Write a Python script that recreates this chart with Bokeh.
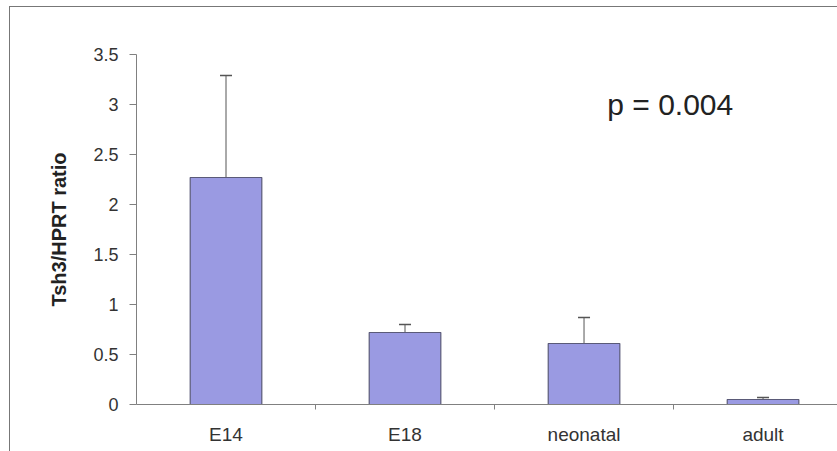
from bokeh.plotting import figure
from bokeh.models import ColumnDataSource, Whisker, TeeHead, FixedTicker, Label, Range1d
from bokeh.embed import file_html
from bokeh.resources import INLINE

categories = ["E14", "E18", "neonatal", "adult"]
ratio = [2.27, 0.72, 0.61, 0.05]
error = [1.02, 0.08, 0.26, 0.02]
y_ticks = [0, 0.5, 1, 1.5, 2, 2.5, 3, 3.5]
annotation = "p = 0.004"

xs = list(range(len(categories)))
src = ColumnDataSource(dict(
    x=xs, top=ratio,
    upper=[r + e for r, e in zip(ratio, error)],
))

p = figure(width=837, height=451, output_backend="svg", toolbar_location=None,
           x_range=Range1d(-0.5, 3.416), y_range=Range1d(0, 3.5),
           min_border_left=136, min_border_right=0, min_border_top=54,
           min_border_bottom=47)
p.background_fill_color = "white"
p.border_fill_alpha = 0
p.outline_line_color = None
p.xgrid.visible = False
p.ygrid.visible = False
p.styles = {"box-shadow": "inset 9px 6px 0px 0px #ffffff, inset 10px 7px 0px 0px #777777"}

p.vbar(x="x", top="top", width=0.4, bottom=0, source=src,
       fill_color="#9a9ae2", line_color="#5a5a78", line_width=1.2)

w = Whisker(base="x", lower="top", upper="upper", source=src,
            line_color="#555", line_width=1,
            upper_head=TeeHead(size=12, line_color="#555", line_width=1.5),
            lower_head=None)
p.add_layout(w)

# y axis
p.yaxis.ticker = FixedTicker(ticks=y_ticks)
p.yaxis.axis_line_color = "#808080"
p.yaxis.major_tick_line_color = "#808080"
p.yaxis.major_tick_in = 0
p.yaxis.major_tick_out = 7
p.yaxis.minor_tick_line_color = None
p.yaxis.major_label_text_font = "Liberation Sans"
p.yaxis.major_label_text_font_size = "18px"
p.yaxis.major_label_text_color = "#333"
p.yaxis.major_label_standoff = 11
p.yaxis.major_label_overrides = {t: ("%g" % t) for t in y_ticks}
p.yaxis.axis_label = "Tsh3/HPRT ratio"
p.yaxis.axis_label_text_font = "Liberation Sans"
p.yaxis.axis_label_text_font_style = "bold"
p.yaxis.axis_label_text_font_size = "20px"
p.yaxis.axis_label_text_color = "#222"
p.yaxis.axis_label_standoff = 20

# x axis
p.xaxis.ticker = FixedTicker(ticks=xs, minor_ticks=[i + 0.5 for i in xs[:-1]])
p.xaxis.major_label_overrides = {i: c for i, c in zip(xs, categories)}
p.xaxis.axis_line_color = "#808080"
p.xaxis.major_tick_line_color = None
p.xaxis.minor_tick_line_color = "#808080"
p.xaxis.minor_tick_in = 0
p.xaxis.minor_tick_out = 5
p.xaxis.major_label_text_font = "Liberation Sans"
p.xaxis.major_label_text_font_size = "19px"
p.xaxis.major_label_text_color = "#333"
p.xaxis.major_label_standoff = 13

p.add_layout(Label(x=2.13, y=3.0, text=annotation, text_font="Liberation Sans",
                   text_font_size="30px", text_color="#222",
                   text_baseline="middle"))

open("out.html", "w").write(file_html(p, INLINE))
